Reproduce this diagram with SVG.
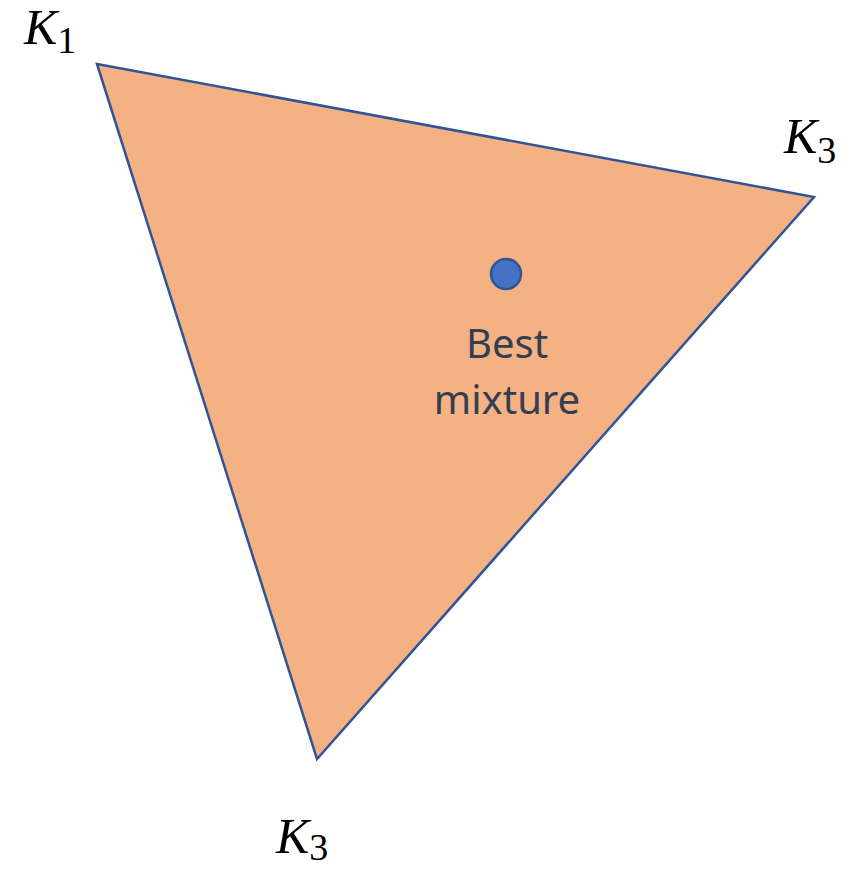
<svg xmlns="http://www.w3.org/2000/svg" width="856" height="870" viewBox="0 0 856 870">
<style>
.k{font-family:"Liberation Serif","DejaVu Serif",serif;font-style:italic;font-size:50px;fill:#000}
.s{font-family:"Liberation Serif","DejaVu Serif",serif;font-style:normal;font-size:38px;fill:#000}
.lbl{font-family:"Noto Sans","Open Sans",sans-serif;font-size:40px;fill:#333F50;text-anchor:middle}
</style>
<rect width="856" height="870" fill="#fff"/>
<g id="simplex">
<polygon points="97,64 814,197 317,759" fill="#F4B183" stroke="#2F5597" stroke-width="2.5" stroke-linejoin="miter"/>
</g>
<g id="best">
<circle cx="506" cy="274" r="15" fill="#4472C4" stroke="#2F5597" stroke-width="2.5"/>
<text class="lbl" x="507" y="358">Best</text>
<text class="lbl" x="507" y="414">mixture</text>
</g>
<g id="k1"><text x="24" y="44"><tspan class="k">K</tspan><tspan class="s" dy="9">1</tspan></text></g>
<g id="k3a"><text x="784" y="153"><tspan class="k">K</tspan><tspan class="s" dy="10">3</tspan></text></g>
<g id="k3b"><text x="276" y="853"><tspan class="k">K</tspan><tspan class="s" dy="7">3</tspan></text></g>
<g id="connectors"/>
</svg>
